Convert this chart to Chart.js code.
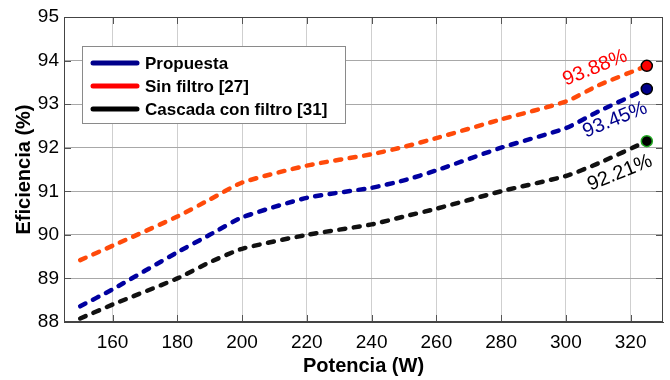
<!DOCTYPE html>
<html>
<head>
<meta charset="utf-8">
<script src="https://cdn.jsdelivr.net/npm/chart.js@4"></script>
<style>
  html, body { margin: 0; padding: 0; background: #fff; }
  #wrap { width: 670px; height: 380px; }
</style>
</head>
<body>
<div id="wrap"><canvas id="chart" width="670" height="380"></canvas></div>
<script>
const potencia  = [150, 160, 180, 190, 200, 220, 240, 250, 260, 280, 300, 310, 325];
const propuesta = [88.36, 88.75, 89.6, 90.0, 90.4, 90.85, 91.08, 91.25, 91.48, 92.0, 92.45, 92.83, 93.35];
const sinFiltro = [89.42, 89.75, 90.42, 90.81, 91.2, 91.59, 91.85, 92.02, 92.22, 92.65, 93.06, 93.43, 93.88];
const cascada   = [88.08, 88.4, 89.0, 89.37, 89.68, 90.0, 90.24, 90.42, 90.6, 91.0, 91.35, 91.64, 92.15];
const xTicks = [160, 180, 200, 220, 240, 260, 280, 300, 320];
const seriesNames = ['Propuesta', 'Sin filtro [27]', 'Cascada con filtro [31]'];
const endLabels = ['93.45%', '93.88%', '92.21%'];

const last = potencia.length - 1;
const pts = vals => potencia.map((p, i) => ({ x: p, y: vals[i] }));
const endOnly = r => ctx => ctx.dataIndex === last ? r : 0;

function ds(label, vals, line, legend, fill, edge) {
  return {
    label, data: pts(vals),
    borderColor: line, legendColor: legend,
    borderWidth: 4.5, borderDash: [6, 8.5], borderCapStyle: 'round',
    tension: 0.2, fill: false,
    pointRadius: endOnly(5.5), pointHoverRadius: 0,
    pointBackgroundColor: fill, pointBorderColor: edge, pointBorderWidth: 1.5
  };
}

// frame, inner ticks, legend box and the end labels
const extras = {
  id: 'extras',
  afterDatasetsDraw(chart, args, opts) {
    const c = chart.ctx, a = chart.chartArea;
    const xs = chart.scales.x, ys = chart.scales.y;
    c.save();
    c.strokeStyle = '#555';
    c.lineWidth = 1;
    c.beginPath();
    xTicks.forEach(v => {
      const px = Math.round(xs.getPixelForValue(v)) + 0.5;
      c.moveTo(px, a.top); c.lineTo(px, a.top + 7);
      c.moveTo(px, a.bottom); c.lineTo(px, a.bottom - 7);
    });
    for (let v = 89; v <= 94; v++) {
      const py = Math.round(ys.getPixelForValue(v)) + 0.5;
      c.moveTo(a.left, py); c.lineTo(a.left + 7, py);
      c.moveTo(a.right, py); c.lineTo(a.right - 7, py);
    }
    c.stroke();
    c.strokeStyle = '#444';
    c.strokeRect(a.left + 0.5, a.top + 0.5, a.right - a.left - 1, a.bottom - a.top - 1);

    // end labels
    c.font = '20px "Liberation Sans", Arial, sans-serif';
    c.textAlign = 'center';
    c.textBaseline = 'middle';
    opts.labels.forEach(l => {
      c.save();
      c.translate(xs.getPixelForValue(l.x), ys.getPixelForValue(l.y));
      c.rotate(-22 * Math.PI / 180);
      c.fillStyle = l.color;
      c.fillText(l.text, 0, 0);
      c.restore();
    });

    // legend
    const lg = opts.legend;
    c.fillStyle = '#fff';
    c.fillRect(lg.x, lg.y, lg.w, lg.h);
    c.strokeStyle = '#8a8a8a';
    c.strokeRect(lg.x + 0.5, lg.y + 0.5, lg.w, lg.h);
    c.font = 'bold 17px "Liberation Sans", Arial, sans-serif';
    c.textAlign = 'left';
    chart.data.datasets.forEach((d, i) => {
      const cy = lg.y + 17 + i * 23;
      c.strokeStyle = d.legendColor;
      c.lineWidth = 5;
      c.lineCap = 'round';
      c.beginPath();
      c.moveTo(lg.x + 11, cy); c.lineTo(lg.x + 55, cy);
      c.stroke();
      c.fillStyle = '#000';
      c.fillText(d.label, lg.x + 63, cy + 1);
    });
    c.restore();
  }
};

new Chart(document.getElementById('chart'), {
  type: 'line',
  data: {
    datasets: [
      ds(seriesNames[0], propuesta, '#0000a0', '#00008b', '#00008b', '#000'),
      ds(seriesNames[1], sinFiltro, '#ff4a0a', '#ff0000', '#ff0000', '#000'),
      ds(seriesNames[2], cascada, '#111', '#000', '#000', '#22aa22')
    ]
  },
  options: {
    responsive: false,
    animation: false,
    events: [],
    layout: { padding: { left: 4, right: 7, top: 17, bottom: 2 } },
    plugins: {
      legend: { display: false },
      tooltip: { enabled: false },
      extras: {
        legend: { x: 82, y: 46, w: 263, h: 77 },
        labels: [
          { text: endLabels[1], x: 309, y: 93.83, color: '#ff0000' },
          { text: endLabels[0], x: 315.2, y: 92.64, color: '#00008b' },
          { text: endLabels[2], x: 316.7, y: 91.42, color: '#000' }
        ]
      }
    },
    scales: {
      x: {
        type: 'linear', min: 145, max: 330,
        afterBuildTicks: s => { s.ticks = xTicks.map(v => ({ value: v })); },
        afterFit: s => { s.height = 56; },
        grid: { color: '#cfcfcf', drawTicks: false },
        border: { color: '#444' },
        ticks: { color: '#000', padding: 9, font: { family: '"Liberation Sans", Arial', size: 19 } },
        title: { display: true, text: 'Potencia (W)', color: '#000', padding: { top: 3, bottom: 0 },
                 font: { family: '"Liberation Sans", Arial', size: 20, weight: 'bold' } }
      },
      y: {
        min: 88, max: 95,
        ticks: { stepSize: 1, color: '#000', padding: 5, font: { family: '"Liberation Sans", Arial', size: 19 } },
        afterFit: s => { s.width = 60; },
        grid: { color: '#a8a8a8', drawTicks: false },
        border: { color: '#444' },
        title: { display: true, text: 'Eficiencia (%)', color: '#000', padding: { top: 8, bottom: 0 },
                 font: { family: '"Liberation Sans", Arial', size: 20, weight: 'bold' } }
      }
    }
  },
  plugins: [extras]
});
</script>
</body>
</html>
